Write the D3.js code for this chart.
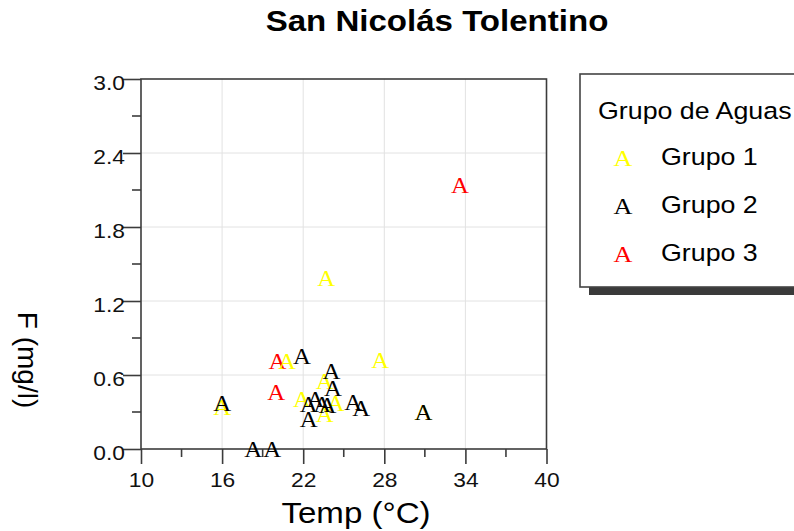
<!DOCTYPE html>
<html>
<head>
<meta charset="utf-8">
<script src="https://cdn.jsdelivr.net/npm/d3@7"></script>
<style>
  html, body { margin: 0; padding: 0; background: #fff; }
  svg { display: block; }
</style>
</head>
<body>
<svg id="chart" width="794" height="531"></svg>
<script>
// Temperature (°C) vs fluoride (mg/l), grouped by water type
const groups = ["Grupo 1", "Grupo 2", "Grupo 3"];
const groupColors = ["#ffff00", "#000000", "#ff0000"];

const grupo1Temp = [16.0, 20.8, 27.7, 23.7, 23.6, 21.9, 24.4, 23.6, 30.9];
const grupo1F    = [0.34, 0.71, 0.72, 1.38, 0.55, 0.40, 0.37, 0.28, 0.30];

const grupo2Temp = [16.0, 18.3, 19.7, 21.9, 24.1, 24.2, 22.4, 22.9, 23.4, 23.8, 25.7, 26.3, 22.4, 30.9];
const grupo2F    = [0.37, 0.00, 0.00, 0.75, 0.63, 0.49, 0.36, 0.40, 0.36, 0.35, 0.38, 0.33, 0.24, 0.30];

const grupo3Temp = [20.1, 20.0, 33.6];
const grupo3F    = [0.71, 0.46, 2.14];

const xTicks = [10, 16, 22, 28, 34, 40];
const yTicks = [0.0, 0.6, 1.2, 1.8, 2.4, 3.0];
const xMinor = [13, 19, 25, 31, 37];
const yMinor = [0.3, 0.9, 1.5, 2.1, 2.7];

const series = [
  { name: groups[2], color: groupColors[2], t: grupo3Temp, f: grupo3F },
  { name: groups[0], color: groupColors[0], t: grupo1Temp, f: grupo1F },
  { name: groups[1], color: groupColors[1], t: grupo2Temp, f: grupo2F }
];

const sans = "'Liberation Sans', Arial, sans-serif";
const serif = "'Liberation Serif', 'Times New Roman', serif";
const SX = 1.14; // horizontal widening of the lettering

const svg = d3.select("#chart");
const plot = { left: 141, right: 546.5, top: 79, bottom: 449 };

const x = d3.scaleLinear().domain([10, 40]).range([plot.left, plot.right]);
const y = d3.scaleLinear().domain([0, 3]).range([plot.bottom, plot.top]);

// place a widened text label at (px, py)
function label(parent, px, py, str, size, opts = {}) {
  return parent.append("text")
    .attr("transform", `translate(${px},${py}) scale(${SX},1)`)
    .attr("text-anchor", opts.anchor || "start")
    .attr("font-family", opts.family || sans)
    .attr("font-weight", opts.weight || "normal")
    .attr("font-size", size)
    .attr("fill", opts.fill || "#000")
    .text(str);
}

// grid
const grid = svg.append("g").attr("stroke", "#e2e2e2").attr("stroke-width", 1);
grid.selectAll("line.gx").data(xTicks.slice(1, -1)).join("line")
  .attr("x1", d => x(d)).attr("x2", d => x(d))
  .attr("y1", plot.top).attr("y2", plot.bottom);
grid.selectAll("line.gy").data(yTicks.slice(1, -1)).join("line")
  .attr("x1", plot.left).attr("x2", plot.right)
  .attr("y1", d => y(d)).attr("y2", d => y(d));

const axisColor = "#3c3c3c";

// x axis (bottom)
const xAxis = svg.append("g").attr("transform", `translate(0,${plot.bottom})`)
  .call(d3.axisBottom(x).tickValues(xTicks).tickSize(15).tickFormat(d3.format("d")));
xAxis.append("g").selectAll("line").data(xMinor).join("line")
  .attr("x1", d => x(d)).attr("x2", d => x(d)).attr("y1", 0).attr("y2", 8);

// y axis (left)
const yAxis = svg.append("g").attr("transform", `translate(${plot.left},0)`)
  .call(d3.axisLeft(y).tickValues(yTicks).tickSize(18).tickFormat(d3.format(".1f")));
yAxis.append("g").selectAll("line").data(yMinor).join("line")
  .attr("x1", 0).attr("x2", -9).attr("y1", d => y(d)).attr("y2", d => y(d));

[xAxis, yAxis].forEach(a => {
  a.select(".domain").remove();
  a.selectAll("line").attr("stroke", axisColor).attr("stroke-width", 1.6);
  a.selectAll("text").attr("fill", "#111").attr("font-family", sans).attr("font-size", 20);
});
xAxis.selectAll(".tick text")
  .attr("x", 0).attr("y", 0).attr("dy", null)
  .attr("transform", `translate(0,38) scale(${SX},1)`);
yAxis.selectAll(".tick text")
  .attr("x", 0).attr("y", 0).attr("dy", null)
  .attr("transform", `translate(-16,10.5) scale(${SX},1)`);

// frame
svg.append("rect")
  .attr("x", plot.left).attr("y", plot.top)
  .attr("width", plot.right - plot.left).attr("height", plot.bottom - plot.top)
  .attr("fill", "none").attr("stroke", axisColor).attr("stroke-width", 1.6);

// markers
series.forEach(s => {
  svg.append("g").selectAll("text").data(s.t.map((t, i) => [t, s.f[i]])).join("text")
    .attr("transform", d => `translate(${x(d[0])},${y(d[1])}) scale(1.08,1)`)
    .attr("dy", "0.33em")
    .attr("text-anchor", "middle")
    .attr("font-family", serif).attr("font-size", 23)
    .attr("fill", s.color)
    .text("A");
});

// title & axis labels
label(svg, 437, 31, "San Nicolás Tolentino", 29, { anchor: "middle", weight: "bold" });
label(svg, 356, 523, "Temp (°C)", 29, { anchor: "middle" });

svg.append("text").attr("transform", "translate(18,360) rotate(90)").attr("text-anchor", "middle")
  .attr("font-family", sans).attr("font-size", 28).attr("fill", "#000").text("F (mg/l)");

// legend
const lg = svg.append("g");
lg.append("rect").attr("x", 589).attr("y", 83).attr("width", 230).attr("height", 212).attr("fill", "#3a3a3a");
lg.append("rect").attr("x", 580).attr("y", 74).attr("width", 230).attr("height", 213)
  .attr("fill", "#fff").attr("stroke", "#444").attr("stroke-width", 1.6);
label(lg, 598, 119, "Grupo de Aguas", 23.5);
groups.forEach((g, i) => {
  const cy = 166 + i * 48;
  label(lg, 623, cy, "A", 23, { anchor: "middle", family: serif, fill: groupColors[i] });
  label(lg, 661, cy - 1, g, 23.5);
});
</script>
</body>
</html>
